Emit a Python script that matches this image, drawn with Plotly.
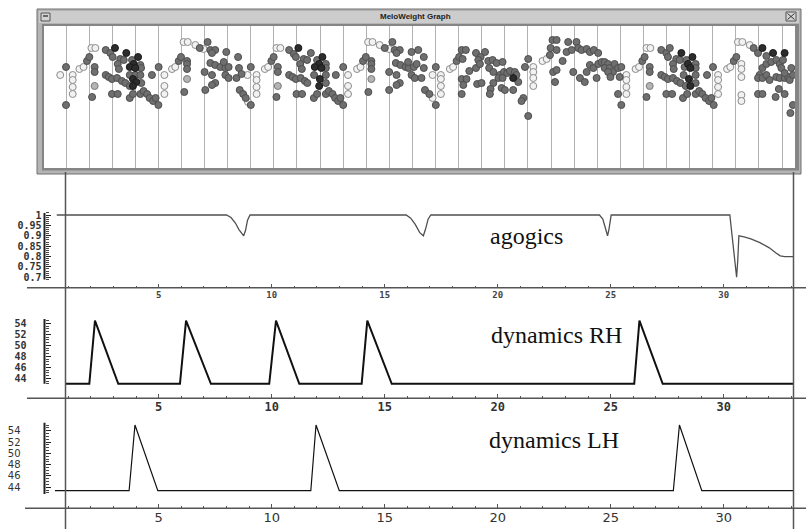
import plotly.graph_objects as go

W, H = 806, 529

def px(x):
    return x / W

def py(y):
    return 1 - y / H

# ---------------- data ----------------
# MeloWeight graph: (beat, weight) per shade group
light_notes = [
    (0.75, 9.3), (1.29, 9.3), (1.29, 8.8), (1.29, 8.1), (1.29, 7.4), (1.58, 9.9), (1.76, 10.1),
    (2.10, 12.0), (2.27, 12.0), (5.26, 9.3), (5.26, 8.2), (5.26, 7.4), (5.59, 9.9), (5.73, 10.1),
    (6.09, 12.6), (6.27, 12.6), (6.60, 12.3), (6.96, 11.9),
    (8.88, 6.6), (8.86, 9.3), (9.25, 9.3), (9.25, 8.8), (9.25, 8.1), (9.25, 7.4), (9.61, 9.9),
    (9.75, 10.1), (10.11, 12.0), (10.28, 12.0), (13.21, 9.3), (13.21, 8.2), (13.21, 7.4),
    (13.6, 9.9), (13.75, 10.1), (14.08, 12.6), (14.27, 12.6), (14.58, 12.3), (14.99, 11.9),
    (16.87, 7.0), (16.87, 9.3), (17.23, 9.3), (17.23, 8.9), (17.23, 8.2), (17.23, 7.4),
    (17.62, 9.9), (17.76, 10.1), (21.23, 10.1), (21.23, 9.6), (21.23, 9.0), (21.23, 8.2),
    (21.63, 10.7), (21.81, 10.9),
    (25.26, 9.3), (25.26, 8.8), (25.26, 8.1), (25.26, 7.4), (25.66, 9.9), (25.81, 10.1),
    (26.13, 12.0), (26.3, 12.0), (29.23, 9.3), (29.23, 8.8), (29.23, 8.1), (29.23, 7.4),
    (29.62, 9.9), (29.76, 10.1), (30.09, 12.6), (30.28, 12.6), (30.24, 10.4), (30.24, 9.9),
    (30.24, 9.1), (30.24, 7.3), (30.24, 6.7), (30.6, 12.3),
]
accent_notes = [(2.24, 8.2), (6.24, 8.9), (10.17, 8.2), (14.22, 8.9), (26.27, 8.2)]
dark_notes = [
    (3.12, 12.0), (3.61, 11.5), (4.12, 11.1), (3.93, 10.4), (3.76, 10.1), (4.00, 10.0),
    (3.90, 8.9), (4.04, 8.6), (3.90, 8.2),
    (11.06, 12.0), (12.1, 11.1), (11.96, 10.4), (11.77, 10.1), (12.06, 10.0), (11.99, 8.9), (11.96, 8.2),
    (20.36, 9.0),
    (27.64, 11.5), (28.12, 11.1), (27.93, 10.4), (28.03, 10.0), (27.97, 8.9), (28.03, 8.2),
    (31.15, 12.0), (31.61, 11.5), (32.11, 11.5),
]
mid_notes = [
    (1.0, 10.1), (1.0, 6.3), (1.91, 10.7), (2.01, 11.1), (2.24, 10.1), (2.24, 9.6), (2.13, 7.1),
    (2.72, 11.8), (2.92, 11.5), (3.02, 11.1), (3.35, 10.9), (3.50, 10.8), (3.24, 10.4), (3.29, 9.9),
    (3.86, 10.8), (4.22, 10.3), (4.25, 10.0), (2.72, 9.3), (2.85, 9.1), (2.99, 8.9), (3.21, 9.0),
    (3.42, 8.7), (3.57, 8.5), (3.76, 9.3), (4.00, 9.3), (4.22, 9.3), (3.76, 8.2), (4.26, 8.5),
    (2.99, 7.4), (3.24, 7.4), (3.76, 7.0), (3.90, 7.4), (4.22, 7.4), (4.36, 7.7), (4.51, 7.4),
    (4.62, 7.0), (4.77, 6.7), (4.88, 7.0), (5.00, 6.3), (4.72, 9.3), (5.01, 10.1), (5.88, 10.7),
    (5.98, 11.1), (6.24, 10.7), (6.24, 10.4), (6.24, 9.9), (6.12, 7.6), (6.79, 12.0), (7.13, 12.6),
    (7.25, 11.8), (7.46, 11.8), (7.32, 11.5), (7.00, 9.6), (7.03, 7.8), (7.25, 10.5), (7.46, 10.3),
    (7.68, 10.1), (7.90, 10.0), (8.04, 10.1), (7.83, 10.6), (7.94, 11.6), (7.32, 9.3), (7.46, 8.5),
    (7.32, 8.3), (7.90, 9.3), (8.04, 9.0),
    (8.45, 11.1), (8.49, 10.0), (8.38, 9.0), (8.6, 9.4), (8.52, 7.8), (8.67, 7.4), (8.78, 7.0),
    (9.0, 6.3), (9.0, 10.1), (9.89, 10.7), (9.99, 11.1), (10.17, 10.1), (10.17, 9.6), (10.11, 7.1),
    (10.66, 11.8), (10.86, 11.4), (10.95, 11.1), (11.29, 10.9), (11.44, 10.8), (11.14, 10.4),
    (11.21, 9.9), (11.6, 11.5), (11.87, 10.8), (12.25, 10.4), (12.25, 10.0), (10.66, 9.3),
    (10.81, 9.1), (10.95, 8.9), (11.16, 9.0), (11.34, 8.7), (11.45, 8.5), (11.74, 9.3), (12.25, 9.3),
    (12.25, 8.5), (10.98, 7.4), (11.22, 7.4), (11.73, 7.0), (11.87, 7.4), (12.25, 7.4), (12.38, 7.7),
    (12.54, 7.4), (12.65, 7.0), (12.78, 6.7), (12.88, 7.0), (13.0, 6.3), (12.68, 9.3), (13.0, 10.1),
    (13.86, 10.7), (13.98, 11.1), (14.22, 10.7), (14.22, 10.4), (14.22, 9.9), (14.09, 7.6),
    (14.8, 12.0), (15.13, 12.6), (15.23, 11.8), (15.45, 11.8), (15.31, 11.5), (14.99, 9.6),
    (14.99, 7.8), (15.28, 10.5), (15.48, 10.3), (15.7, 10.1), (15.83, 10.0), (16.06, 10.1),
    (15.81, 10.6), (15.96, 11.6), (15.31, 9.3), (15.45, 8.5), (15.31, 8.3), (15.96, 9.3), (16.1, 9.0),
    (16.25, 11.8), (16.49, 11.1), (16.18, 10.4), (16.49, 10.0), (16.39, 9.0), (16.54, 7.8),
    (16.73, 7.4), (17.01, 6.3), (17.01, 10.1), (17.91, 10.7), (18.02, 11.1), (18.13, 11.8),
    (18.31, 11.8), (18.17, 10.9), (18.75, 11.5), (18.95, 11.1), (19.14, 11.6), (18.85, 10.8),
    (18.46, 9.7), (18.75, 10.0), (18.92, 10.4), (19.28, 10.7), (19.47, 10.8), (19.64, 10.5),
    (19.9, 10.6), (19.32, 10.0), (19.5, 9.6), (19.78, 9.3), (19.96, 9.6), (20.1, 9.5), (20.22, 9.7),
    (20.43, 9.6), (20.5, 9.3), (20.58, 8.6), (19.72, 9.0), (19.9, 9.0), (18.13, 8.9), (18.34, 8.9),
    (18.2, 8.3), (18.13, 7.4), (18.8, 8.4), (18.99, 8.5), (19.5, 8.5), (19.38, 7.9), (19.35, 7.4),
    (19.86, 8.0), (20.0, 7.8), (20.36, 7.8), (20.87, 10.1), (21.01, 10.9), (20.8, 7.0), (20.72, 6.7),
    (21.01, 5.2), (21.95, 11.3), (21.98, 12.0), (22.06, 12.8), (22.24, 12.8), (22.24, 11.8),
    (22.09, 9.6), (22.24, 9.8), (22.17, 8.6), (22.5, 10.7), (22.67, 11.6), (22.74, 12.6),
    (22.89, 11.8), (23.1, 12.6), (23.18, 12.0), (22.96, 9.6), (23.32, 11.8), (23.54, 11.9),
    (23.68, 11.6), (23.85, 11.8), (24.04, 11.5), (23.25, 9.0), (23.46, 8.6), (23.54, 9.6),
    (23.68, 10.3), (23.83, 10.0), (24.04, 10.4), (24.19, 10.6), (23.97, 9.0),
    (24.32, 10.6), (24.47, 10.4), (24.32, 10.0), (24.54, 10.0), (24.75, 10.4), (24.68, 9.6),
    (24.47, 9.6), (24.9, 10.0), (24.97, 9.1), (24.57, 9.1), (25.04, 10.1), (24.9, 7.4), (25.04, 6.3),
    (25.95, 10.7), (26.05, 11.1), (26.27, 10.1), (26.27, 9.6), (26.13, 7.1), (26.77, 11.8),
    (26.99, 11.5), (27.14, 12.0), (27.06, 11.1), (27.42, 10.9), (27.28, 10.4), (27.31, 9.9),
    (27.57, 10.8), (27.86, 10.8), (27.78, 10.1), (28.26, 10.4), (28.26, 10.0), (26.77, 9.3),
    (26.92, 9.1), (27.06, 8.9), (27.28, 9.0), (27.45, 8.7), (27.6, 8.5), (27.74, 9.3), (28.26, 9.3),
    (27.83, 8.2), (28.26, 8.5), (26.99, 7.4), (27.24, 7.4), (27.71, 7.0), (27.89, 7.4), (28.26, 7.4),
    (28.41, 7.7), (28.55, 7.4), (28.69, 7.0), (28.84, 6.7), (28.94, 7.0), (29.04, 6.3), (28.75, 9.3),
    (29.01, 10.1), (29.91, 10.7), (30.02, 11.1), (30.77, 12.0), (30.96, 11.5), (31.32, 11.2),
    (31.03, 9.3), (30.96, 9.0), (31.15, 9.0), (31.32, 9.3), (31.46, 8.8), (31.15, 10.0), (31.32, 10.4),
    (31.53, 10.6), (31.75, 10.8), (31.9, 10.4), (32.04, 10.8), (31.97, 10.0), (31.75, 9.1), (31.9, 9.0),
    (32.11, 9.0), (32.26, 9.1), (32.33, 8.8), (32.4, 10.0), (32.47, 9.3), (32.11, 9.5), (30.96, 7.4),
    (31.15, 7.4), (31.72, 7.1), (31.86, 7.9), (32.11, 7.4), (32.47, 6.3), (32.36, 5.5),
]
grid_beats = list(range(1, 33))

# agogics (tempo factor vs beat)
agogic_beats = [0.49, 8.0, 8.2, 8.4, 8.55, 8.68, 8.76, 8.84, 8.93, 9.04,
                15.95, 16.15, 16.35, 16.55, 16.71, 16.8, 16.92, 17.04,
                24.5, 24.65, 24.78, 24.86, 24.92, 24.97, 25.02,
                30.27, 30.4, 30.5, 30.57, 30.62, 30.67, 30.9, 31.2, 31.6, 32.0, 32.3, 32.5, 32.7, 33.08]
agogic_tempo = [1.0, 1.0, 0.988, 0.96, 0.93, 0.908, 0.9, 0.925, 0.975, 1.0,
                1.0, 0.985, 0.955, 0.915, 0.9, 0.93, 0.98, 1.0,
                1.0, 0.98, 0.935, 0.9, 0.93, 0.98, 1.0,
                1.0, 0.88, 0.76, 0.7, 0.78, 0.9, 0.895, 0.885, 0.867, 0.843, 0.818, 0.803, 0.8, 0.8]
agogic_ticks = [0.7, 0.75, 0.8, 0.85, 0.9, 0.95, 1.0]
agogic_labels = ["0.7", "0.75", "0.8", "0.85", "0.9", "0.95", "1"]

# dynamics right hand
rh_beats = [0.88, 1.93, 2.18, 3.21, 5.94, 6.21, 7.31, 9.89, 10.19, 11.22,
            13.98, 14.23, 15.31, 26.04, 26.27, 27.30, 33.08]
rh_velocity = [43, 43, 54.5, 43, 43, 54.5, 43, 43, 54.5, 43,
               43, 54.5, 43, 43, 54.5, 43, 43]
# dynamics left hand
lh_beats = [0.41, 3.69, 3.95, 4.96, 11.73, 11.96, 12.99, 27.77, 28.04, 29.03, 33.08]
lh_velocity = [43.4, 43.4, 55, 43.4, 43.4, 55, 43.4, 43.4, 55, 43.4, 43.4]
dyn_ticks = [44, 46, 48, 50, 52, 54]
dyn_labels = ["44", "46", "48", "50", "52", "54"]
beat_ticks = [5, 10, 15, 20, 25, 30]
minor_beats = list(range(1, 34))

# ---------------- figure ----------------
fig = go.Figure()

groups = [
    (light_notes, "#f2f2f2", "#8c8c8c"),
    (accent_notes, "#b4b4b4", "#7a7a7a"),
    (mid_notes, "#6f6f6f", "#4e4e4e"),
    (dark_notes, "#2c2c2c", "#1a1a1a"),
]
for pts, fill, edge in groups:
    fig.add_trace(go.Scatter(
        x=[p[0] for p in pts], y=[p[1] for p in pts], mode="markers",
        marker=dict(size=7, color=fill, line=dict(color=edge, width=1)),
        xaxis="x", yaxis="y", hoverinfo="skip", showlegend=False))

fig.add_trace(go.Scatter(x=agogic_beats, y=agogic_tempo, mode="lines",
                         line=dict(color="#505050", width=1.3),
                         xaxis="x2", yaxis="y2", showlegend=False, hoverinfo="skip"))
fig.add_trace(go.Scatter(x=rh_beats, y=rh_velocity, mode="lines",
                         line=dict(color="#111111", width=2),
                         xaxis="x3", yaxis="y3", showlegend=False, hoverinfo="skip"))
fig.add_trace(go.Scatter(x=lh_beats, y=lh_velocity, mode="lines",
                         line=dict(color="#111111", width=1.2),
                         xaxis="x4", yaxis="y4", showlegend=False, hoverinfo="skip"))

XR = [-2.022, 33.64]
axis_col = "#555555"

def lower_x(anchor, font):
    return dict(domain=[0, 1], range=XR, anchor=anchor, tickmode="array", tickvals=beat_ticks,
                ticks="inside", ticklen=4, tickwidth=1, tickcolor=axis_col,
                minor=dict(tickmode="array", tickvals=minor_beats, ticks="inside", ticklen=2,
                           tickcolor=axis_col, showgrid=False),
                showgrid=False, zeroline=False, showline=False, tickfont=font)

def lower_y(dom, rng, tickvals, ticktext, minor_vals, font, standoff):
    return dict(domain=dom, range=rng, anchor="free", position=px(44.5), tickmode="array",
                tickvals=tickvals, ticktext=ticktext, ticks="inside", ticklen=5,
                tickcolor="#222", minor=dict(tickmode="array", tickvals=minor_vals, ticks="inside",
                                             ticklen=3, tickcolor="#444", showgrid=False),
                showgrid=False, zeroline=False, showline=False, tickfont=font,
                ticklabelstandoff=standoff)

# agogics y mapping: 1 -> 215px, 0.7 -> 277.3px
ag_scale = (277.3 - 215) / 0.3
ag_bottom = 287.7
ag_top = 178
ag_rng = [1 - (ag_bottom - 215) / ag_scale, 1 + (215 - ag_top) / ag_scale]

rh_scale = 5.5
rh_bottom, rh_top = 398.3, 300
rh_rng = [54 - (rh_bottom - 323.3) / rh_scale, 54 + (323.3 - rh_top) / rh_scale]

lh_scale = 5.66
lh_bottom, lh_top = 508.3, 410
lh_rng = [54 - (lh_bottom - 430.7) / lh_scale, 54 + (430.7 - lh_top) / lh_scale]

fig.update_layout(
    width=W, height=H, margin=dict(l=0, r=0, t=0, b=0),
    paper_bgcolor="white", plot_bgcolor="rgba(0,0,0,0)",
    xaxis=dict(domain=[px(44), px(795)], range=[0.0476, 32.56], anchor="y", tickmode="array",
               tickvals=grid_beats, showgrid=True, gridcolor="#b2b2b2", gridwidth=1.4,
               showticklabels=False, ticks="", zeroline=False, showline=False),
    yaxis=dict(domain=[py(168), py(26)], range=[0, 14.2], showgrid=False, showticklabels=False,
               zeroline=False, showline=False),
    xaxis2=lower_x("y2", dict(family="DejaVu Sans Mono", size=9, color="#444", weight="bold")),
    yaxis2=lower_y([py(ag_bottom), py(ag_top)], ag_rng, agogic_ticks, agogic_labels,
                   [round(0.69 + 0.01 * i, 2) for i in range(33)],
                   dict(family="DejaVu Sans Mono", size=10, color="#333", weight="bold"), 3),
    xaxis3=lower_x("y3", dict(family="DejaVu Sans Mono", size=12, color="#333", weight="bold")),
    yaxis3=lower_y([py(rh_bottom), py(rh_top)], rh_rng, dyn_ticks, dyn_labels,
                   [43 + 0.5 * i for i in range(24)],
                   dict(family="DejaVu Sans Mono", size=10, color="#333", weight="bold"), 18),
    xaxis4=lower_x("y4", dict(family="DejaVu Sans", size=13, color="#333")),
    yaxis4=lower_y([py(lh_bottom), py(lh_top)], lh_rng, dyn_ticks, dyn_labels,
                   [43 + 0.5 * i for i in range(25)],
                   dict(family="DejaVu Sans", size=10, color="#333"), 24),
)

shapes = []
# window frame
shapes.append(dict(type="rect", xref="paper", yref="paper", x0=px(37), x1=px(801), y0=py(174), y1=py(9),
                   fillcolor="#b4b4b4", line=dict(color="#707070", width=1), layer="below"))
shapes.append(dict(type="rect", xref="paper", yref="paper", x0=px(39), x1=px(799), y0=py(23), y1=py(11),
                   fillcolor="#cccccc", line=dict(width=0), layer="below"))
shapes.append(dict(type="rect", xref="paper", yref="paper", x0=px(42), x1=px(799), y0=py(170.5), y1=py(24),
                   fillcolor="#858585", line=dict(width=0), layer="below"))
shapes.append(dict(type="rect", xref="paper", yref="paper", x0=px(44), x1=px(795), y0=py(168), y1=py(26),
                   fillcolor="white", line=dict(width=0), layer="below"))
# window buttons
shapes.append(dict(type="rect", xref="paper", yref="paper", x0=px(41), x1=px(50), y0=py(21), y1=py(13),
                   fillcolor="#d4d4d4", line=dict(color="#555", width=1), layer="below"))
shapes.append(dict(type="line", xref="paper", yref="paper", x0=px(43), x1=px(48), y0=py(16), y1=py(16),
                   line=dict(color="#444", width=1.5), layer="below"))
shapes.append(dict(type="rect", xref="paper", yref="paper", x0=px(786), x1=px(796), y0=py(21), y1=py(12),
                   fillcolor="#d4d4d4", line=dict(color="#555", width=1), layer="below"))
shapes.append(dict(type="line", xref="paper", yref="paper", x0=px(787.5), x1=px(794.5), y0=py(13.5), y1=py(19.5),
                   line=dict(color="#333", width=1), layer="below"))
shapes.append(dict(type="line", xref="paper", yref="paper", x0=px(787.5), x1=px(794.5), y0=py(19.5), y1=py(13.5),
                   line=dict(color="#333", width=1), layer="below"))

# long vertical frame lines of the lower graphs
for xv in (65.5, 793.5):
    shapes.append(dict(type="line", xref="paper", yref="paper", x0=px(xv), x1=px(xv), y0=py(172), y1=0,
                       line=dict(color=axis_col, width=1.5)))
# horizontal axis lines
for yv, x0 in ((ag_bottom, 27), (rh_bottom, 27), (lh_bottom, 25)):
    shapes.append(dict(type="line", xref="paper", yref="paper", x0=px(x0), x1=1, y0=py(yv), y1=py(yv),
                       line=dict(color=axis_col, width=1.5)))
# vertical value-axis bars
shapes.append(dict(type="line", xref="paper", yref="y2", x0=px(44.5), x1=px(44.5), y0=0.69, y1=1.01,
                   line=dict(color="#222", width=2)))
shapes.append(dict(type="line", xref="paper", yref="y3", x0=px(44.5), x1=px(44.5), y0=43, y1=54.8,
                   line=dict(color="#222", width=2)))
shapes.append(dict(type="line", xref="paper", yref="y4", x0=px(44.5), x1=px(44.5), y0=42.8, y1=55.4,
                   line=dict(color="#222", width=2)))
fig.update_layout(shapes=shapes)

serif = dict(family="Liberation Serif", size=24, color="#111")
ann = [
    dict(text="<b>MeloWeight Graph</b>", x=px(415), y=py(16.5), xref="paper", yref="paper",
         xanchor="center", yanchor="middle", showarrow=False,
         font=dict(family="Liberation Sans", size=8, color="#222")),
    dict(text="agogics", x=px(526.3), y=py(236), xref="paper", yref="paper", showarrow=False,
         xanchor="center", yanchor="middle", font=serif),
    dict(text="dynamics RH", x=px(556), y=py(335), xref="paper", yref="paper", showarrow=False,
         xanchor="center", yanchor="middle", font=serif),
    dict(text="dynamics LH", x=px(553.7), y=py(440), xref="paper", yref="paper", showarrow=False,
         xanchor="center", yanchor="middle", font=serif),
]
fig.update_layout(annotations=ann)

fig.write_html("out.html", config={"displayModeBar": False},
               post_script="document.body.style.margin='0px';")
